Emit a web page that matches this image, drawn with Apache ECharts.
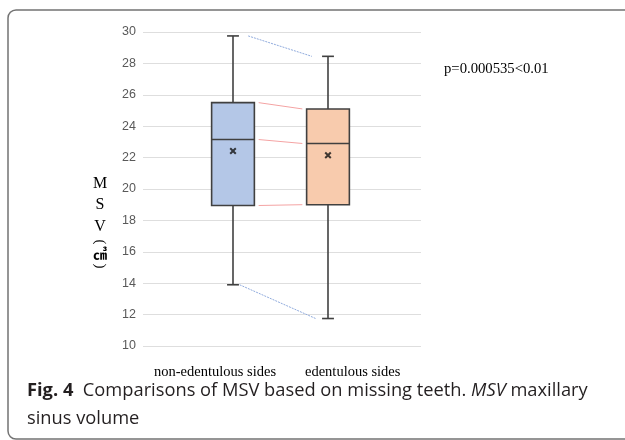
<!DOCTYPE html>
<html>
<head>
<meta charset="utf-8">
<script src="https://cdn.jsdelivr.net/npm/echarts@6/dist/echarts.min.js"></script>
<style>html,body{margin:0;padding:0;background:#fff}#c{width:625px;height:440px}</style>
</head>
<body>
<div id="c"></div>
<script>
const categories = ['non-edentulous sides', 'edentulous sides'];
const minVals = [13.9, 11.75];
const q1Vals = [18.95, 19.0];
const medianVals = [23.15, 22.9];
const q3Vals = [25.5, 25.1];
const maxVals = [29.75, 28.45];
const meanVals = [22.42, 22.15];
const boxColors = ['#b4c7e7', '#f8cbad'];
const yMin = 10, yMax = 30, yStep = 2;
const pText = 'p=0.000535<0.01';
const yTitleLetters = ['M', 'S', 'V'];
const yTitleUnit = ['(', '㎤', ')'];

const chart = echarts.init(document.getElementById('c'), null, {renderer: 'canvas'});

const boxData = categories.map((c, i) => [i, minVals[i], q1Vals[i], medianVals[i], q3Vals[i], maxVals[i]]);

function seg(x0, x1, a, b) { return [[x0, a], [x1, b]]; }

const option = {
  animation: false,
  grid: [
    {left: 143, right: 204, top: 32, bottom: 94},
    {left: 185.5, right: 249.5, top: 32, bottom: 94}
  ],
  xAxis: [
    {type: 'category', gridIndex: 0, data: categories, show: false},
    {type: 'category', gridIndex: 1, data: categories, show: false},
    {type: 'value', gridIndex: 1, min: -0.5, max: 1.5, show: false}
  ],
  yAxis: [
    {type: 'value', gridIndex: 0, min: yMin, max: yMax, interval: yStep,
     axisLine: {show: false}, axisTick: {show: false},
     axisLabel: {color: '#595959', fontSize: 12.5, fontFamily: 'Liberation Sans, Arial', margin: 7},
     splitLine: {lineStyle: {color: '#dedede', width: 1}}},
    {type: 'value', gridIndex: 1, min: yMin, max: yMax, interval: yStep, show: false, splitLine: {show: false}}
  ],
  series: [
    {
      type: 'custom', xAxisIndex: 1, yAxisIndex: 1, z: 5,
      data: boxData,
      encode: {x: 0, y: [1, 2, 3, 4, 5]},
      renderItem: function (params, api) {
        const i = api.value(0);
        const band = api.size([1, 0])[0];
        const bw = band * 0.45, cw = band * 0.125;
        const pMin = api.coord([i, api.value(1)]);
        const pQ1 = api.coord([i, api.value(2)]);
        const pMed = api.coord([i, api.value(3)]);
        const pQ3 = api.coord([i, api.value(4)]);
        const pMax = api.coord([i, api.value(5)]);
        const cx = pMin[0];
        const st = {stroke: '#404040', lineWidth: 1.6, fill: null};
        return {
          type: 'group',
          children: [
            {type: 'line', shape: {x1: cx, y1: pMax[1], x2: cx, y2: pQ3[1]}, style: st},
            {type: 'line', shape: {x1: cx, y1: pQ1[1], x2: cx, y2: pMin[1]}, style: st},
            {type: 'line', shape: {x1: cx - cw / 2, y1: pMax[1], x2: cx + cw / 2, y2: pMax[1]}, style: st},
            {type: 'line', shape: {x1: cx - cw / 2, y1: pMin[1], x2: cx + cw / 2, y2: pMin[1]}, style: st},
            {type: 'rect', shape: {x: cx - bw / 2, y: pQ3[1], width: bw, height: pQ1[1] - pQ3[1]},
             style: {fill: boxColors[i], stroke: '#404040', lineWidth: 1.6}},
            {type: 'line', shape: {x1: cx - bw / 2, y1: pMed[1], x2: cx + bw / 2, y2: pMed[1]}, style: st}
          ]
        };
      }
    },
    {
      type: 'scatter', xAxisIndex: 1, yAxisIndex: 1, z: 6,
      data: meanVals.map((v, i) => [i, v]),
      symbol: 'path://M0,2L2,0L5,3L8,0L10,2L7,5L10,8L8,10L5,7L2,10L0,8L3,5Z',
      symbolSize: 7,
      itemStyle: {color: '#111'}
    },
    {type: 'line', xAxisIndex: 2, yAxisIndex: 1, z: 3, symbol: 'none', data: seg(0.16, 0.83, maxVals[0], maxVals[1]),
     lineStyle: {color: '#8faadc', width: 1, type: [2, 1]}},
    {type: 'line', xAxisIndex: 2, yAxisIndex: 1, z: 3, symbol: 'none', data: seg(0.07, 0.87, minVals[0], minVals[1]),
     lineStyle: {color: '#8faadc', width: 1, type: [2, 1]}},
    {type: 'line', xAxisIndex: 2, yAxisIndex: 1, z: 3, symbol: 'none', data: seg(0.27, 0.73, q3Vals[0], q3Vals[1]),
     lineStyle: {color: '#f4a3a3', width: 1}},
    {type: 'line', xAxisIndex: 2, yAxisIndex: 1, z: 3, symbol: 'none', data: seg(0.27, 0.73, medianVals[0], medianVals[1]),
     lineStyle: {color: '#f4a3a3', width: 1}},
    {type: 'line', xAxisIndex: 2, yAxisIndex: 1, z: 3, symbol: 'none', data: seg(0.27, 0.73, q1Vals[0], q1Vals[1]),
     lineStyle: {color: '#f4a3a3', width: 1}}
  ],
  graphic: [
    {type: 'rect', shape: {x: 8, y: 10, width: 700, height: 429, r: 8},
     style: {fill: null, stroke: '#737373', lineWidth: 1.5}, silent: true},
    {type: 'text', left: 444, top: 62,
     style: {text: pText, font: '14.7px "Liberation Serif"', fill: '#000'}},
    {type: 'text', left: 154, top: 365,
     style: {text: categories[0], font: '14.5px "Liberation Serif"', fill: '#000'}},
    {type: 'text', left: 305, top: 365,
     style: {text: categories[1], font: '14.5px "Liberation Serif"', fill: '#000'}},
    {type: 'text', x: 100, y: 173,
     style: {text: yTitleLetters.join('\n'), font: '16px "Liberation Serif"', fill: '#000',
             lineHeight: 21.5, align: 'center', verticalAlign: 'top'}},
    {type: 'text', x: 100, y: 242, rotation: -Math.PI / 2,
     style: {text: yTitleUnit[0], font: '15px "Liberation Serif"', fill: '#000', align: 'center', verticalAlign: 'middle'}},
    {type: 'text', x: 100, y: 254,
     style: {text: yTitleUnit[1], font: 'bold 14px "Noto Sans CJK JP"', fill: '#000', align: 'center', verticalAlign: 'middle'}},
    {type: 'text', x: 100, y: 266, rotation: -Math.PI / 2,
     style: {text: yTitleUnit[2], font: '15px "Liberation Serif"', fill: '#000', align: 'center', verticalAlign: 'middle'}},
    {type: 'text', left: 27, top: 382,
     style: {
       text: '{b|Fig. 4}{n|  Comparisons of MSV based on missing teeth. }{i|MSV}{n| maxillary}\n{n|sinus volume}',
       rich: {
         b: {font: 'bold 18.3px "Open Sans"', fill: '#231f20', lineHeight: 28},
         n: {font: '18.3px "Open Sans"', fill: '#231f20', lineHeight: 28},
         i: {font: 'italic 18.3px "Open Sans"', fill: '#231f20', lineHeight: 28}
       }
     }}
  ]
};
chart.setOption(option);
</script>
</body>
</html>
